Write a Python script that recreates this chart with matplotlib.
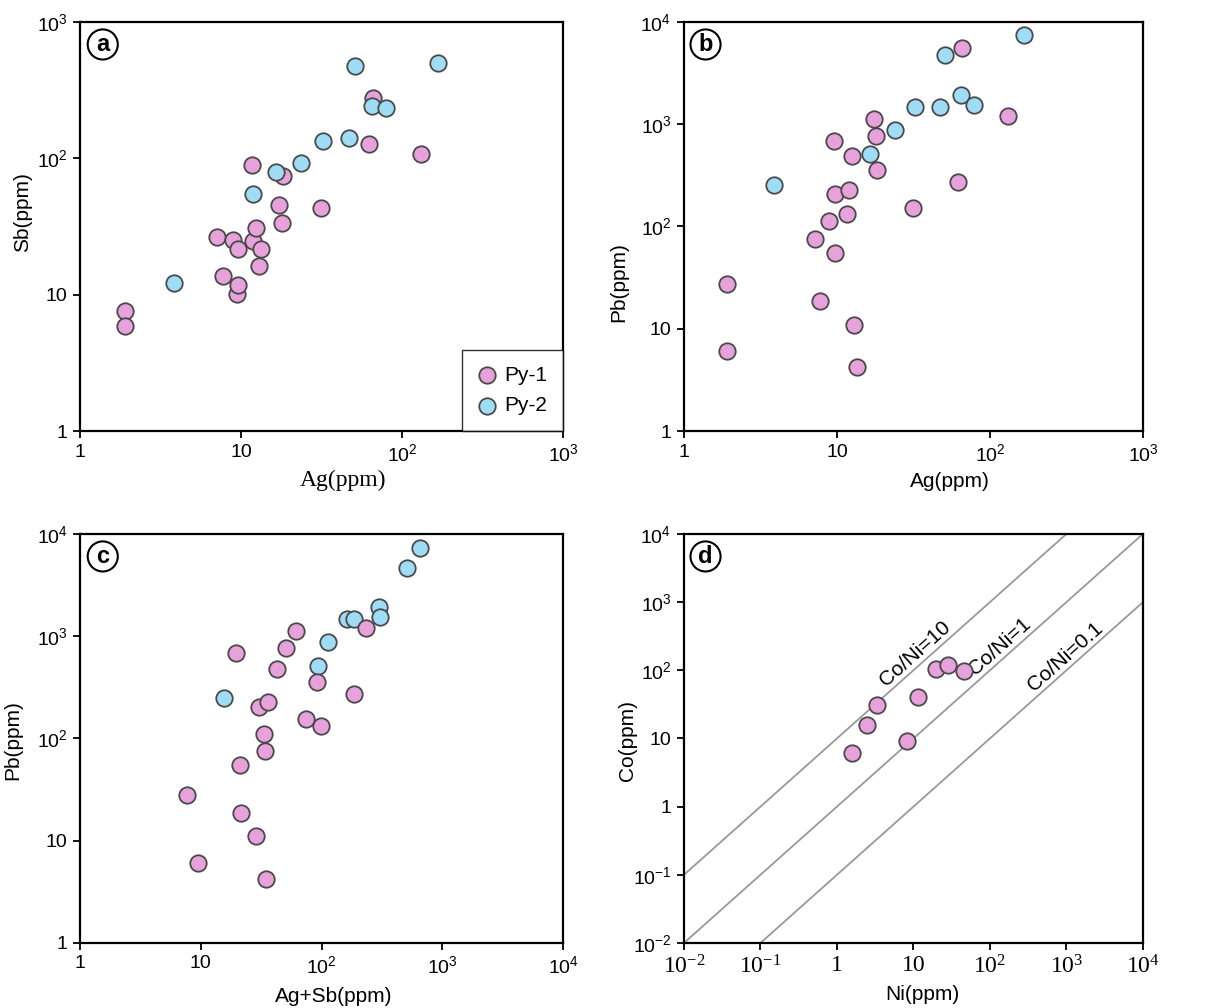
import math
import matplotlib
matplotlib.use('Agg')
import matplotlib.pyplot as plt

plt.rcParams['font.family'] = 'Liberation Sans'
plt.rcParams['mathtext.default'] = 'regular'

PINK = '#e7a1db'
BLUE = '#9fdcf5'
EDGE = '#4a4a4a'

# --- (a) Ag vs Sb ---
a_py1_ag = [1.9, 1.9, 7.1, 7.7, 8.85, 9.55, 9.4, 9.6, 11.7, 11.9, 12.4, 13.3, 12.9, 17.2, 17.9, 18.1, 31.5, 62, 65.9, 131]
a_py1_sb = [7.6, 5.9, 26.6, 13.8, 25, 21.5, 10.1, 11.8, 89, 24.8, 30.7, 21.5, 16.2, 45.3, 33.4, 74.8, 43.3, 128, 277, 107]
a_py2_ag = [3.84, 11.9, 16.4, 23.7, 32.4, 47, 50.7, 64.7, 79, 166]
a_py2_sb = [12.1, 54.5, 79, 92.6, 135, 141, 475, 240, 235, 497]

# --- (b) Ag vs Pb ---
b_py1_ag = [1.91, 1.91, 7.2, 7.77, 8.9, 9.64, 9.64, 9.5, 11.7, 11.9, 12.5, 13, 13.5, 17.4, 18, 18.2, 31.6, 62.2, 66, 131]
b_py1_pb = [27.6, 6.0, 75.5, 18.7, 112, 55, 206, 680, 133, 228, 486, 11, 4.2, 1117, 768, 357, 153, 270, 5570, 1195]
b_py2_ag = [3.86, 16.4, 23.9, 32.5, 47.2, 51.1, 65, 79.1, 167]
b_py2_pb = [253, 508, 879, 1475, 1475, 4720, 1946, 1531, 7460]

# --- (c) Ag+Sb vs Pb ---
c_py1_agsb = [7.66, 9.5, 19.5, 21.2, 21.4, 28.7, 30.4, 33.5, 33.9, 34.8, 35.9, 42.6, 50.6, 61.3, 73.7, 91.5, 99.4, 184, 233]
c_py1_pb = [27.8, 6.0, 678, 55, 18.6, 11, 204, 111, 76, 4.24, 228, 483, 764, 1113, 154, 355, 132, 271, 1191]
c_py2_agsb = [15.5, 93.3, 114, 163, 184, 299, 306, 513, 649]
c_py2_pb = [249, 506, 869, 1470, 1470, 1927, 1527, 4645, 7345]

# --- (d) Ni vs Co ---
d_ni = [1.56, 2.47, 3.37, 8.25, 11.3, 20, 28.1, 46]
d_co = [6.06, 15.6, 30.7, 9.19, 41.1, 106, 118, 96.7]
d_ratios = [10, 1, 0.1]
d_ratio_labels = ['Co/Ni=10', 'Co/Ni=1', 'Co/Ni=0.1']
d_label_ni = [12.8, 160, 1167]


def fmt_pow(e):
    if e == 0:
        return '1'
    if e == 1:
        return '10'
    return '$10^{%d}$' % e


def setup(ax, xexp, yexp, letter, xfont='Liberation Sans', xsize=14):
    ax.set_xscale('log')
    ax.set_yscale('log')
    ax.set_xlim(10.0 ** xexp[0], 10.0 ** xexp[-1])
    ax.set_ylim(10.0 ** yexp[0], 10.0 ** yexp[-1])
    ax.set_xticks([10.0 ** e for e in xexp], [fmt_pow(e) for e in xexp])
    ax.set_yticks([10.0 ** e for e in yexp], [fmt_pow(e) for e in yexp])
    ax.minorticks_off()
    ax.tick_params(direction='out', length=5, width=1.3, pad=4, top=False, right=False,
                   labelsize=14)
    ax.tick_params(axis='x', labelsize=xsize, labelfontfamily=xfont)
    for s in ax.spines.values():
        s.set_linewidth(1.6)
    ax.text(0.047, 0.945, letter, transform=ax.transAxes, fontsize=17, fontweight='bold',
            ha='center', va='center',
            bbox=dict(boxstyle='circle,pad=0.15', fc='white', ec='black', lw=1.5))


fig = plt.figure(figsize=(12.22, 10.08), dpi=100)
ax_a = fig.add_axes([0.0655, 0.5724, 0.3953, 0.4058])
ax_b = fig.add_axes([0.5597, 0.5724, 0.3756, 0.4058])
ax_c = fig.add_axes([0.0655, 0.0645, 0.3953, 0.4058])
ax_d = fig.add_axes([0.5597, 0.0645, 0.3756, 0.4058])

ms = 140
kw = dict(s=ms, edgecolors=EDGE, linewidths=1.3, zorder=3)

# (a)
setup(ax_a, [0, 1, 2, 3], [0, 1, 2, 3], 'a')
ax_a.scatter(a_py1_ag, a_py1_sb, c=PINK, label='Py-1', **kw)
ax_a.scatter(a_py2_ag, a_py2_sb, c=BLUE, label='Py-2', **kw)
ax_a.set_xlabel('Ag(ppm)', family='Liberation Serif', fontsize=17)
ax_a.set_ylabel('Sb(ppm)', fontsize=15)
ax_a.xaxis.set_label_coords(0.545, -0.095)
ax_a.yaxis.set_label_coords(-0.099, 0.535)
leg = ax_a.legend(loc='lower right', borderaxespad=0, fancybox=False, edgecolor='black',
                  fontsize=15, handletextpad=0.37, handlelength=0.9, borderpad=0.75,
                  labelspacing=0.55, markerscale=1.0)
leg.get_frame().set_linewidth(1.0)

# (b)
setup(ax_b, [0, 1, 2, 3], [0, 1, 2, 3, 4], 'b')
ax_b.scatter(b_py1_ag, b_py1_pb, c=PINK, **kw)
ax_b.scatter(b_py2_ag, b_py2_pb, c=BLUE, **kw)
ax_b.set_xlabel('Ag(ppm)', fontsize=15)
ax_b.set_ylabel('Pb(ppm)', fontsize=15)
ax_b.xaxis.set_label_coords(0.58, -0.1)
ax_b.yaxis.set_label_coords(-0.122, 0.364)

# (c)
setup(ax_c, [0, 1, 2, 3, 4], [0, 1, 2, 3, 4], 'c')
ax_c.scatter(c_py2_agsb, c_py2_pb, c=BLUE, **kw)
ax_c.scatter(c_py1_agsb, c_py1_pb, c=PINK, **kw)
ax_c.set_xlabel('Ag+Sb(ppm)', fontsize=15)
ax_c.set_ylabel('Pb(ppm)', fontsize=15)
ax_c.xaxis.set_label_coords(0.526, -0.108)
ax_c.yaxis.set_label_coords(-0.119, 0.496)

# (d)
setup(ax_d, [-2, -1, 0, 1, 2, 3, 4], [-2, -1, 0, 1, 2, 3, 4], 'd',
      xfont='Liberation Serif', xsize=17)
xl = [1e-2, 1e4]
for r in d_ratios:
    ax_d.plot(xl, [r * x for x in xl], color='#999999', lw=1.3, zorder=1)
fig.canvas.draw()
bb = ax_d.get_window_extent()
ang = math.degrees(math.atan2(bb.height, bb.width))
for r, lab, xn in zip(d_ratios, d_ratio_labels, d_label_ni):
    ax_d.text(xn, r * xn * 1.08, lab, rotation=ang, rotation_mode='anchor', ha='center',
              va='bottom', fontsize=15, zorder=2)
ax_d.scatter(d_ni, d_co, c=PINK, **kw)
ax_d.set_xlabel('Ni(ppm)', fontsize=15)
ax_d.set_ylabel('Co(ppm)', fontsize=15)
ax_d.xaxis.set_label_coords(0.52, -0.103)
ax_d.yaxis.set_label_coords(-0.102, 0.496)

fig.savefig('out.png', dpi=100)
